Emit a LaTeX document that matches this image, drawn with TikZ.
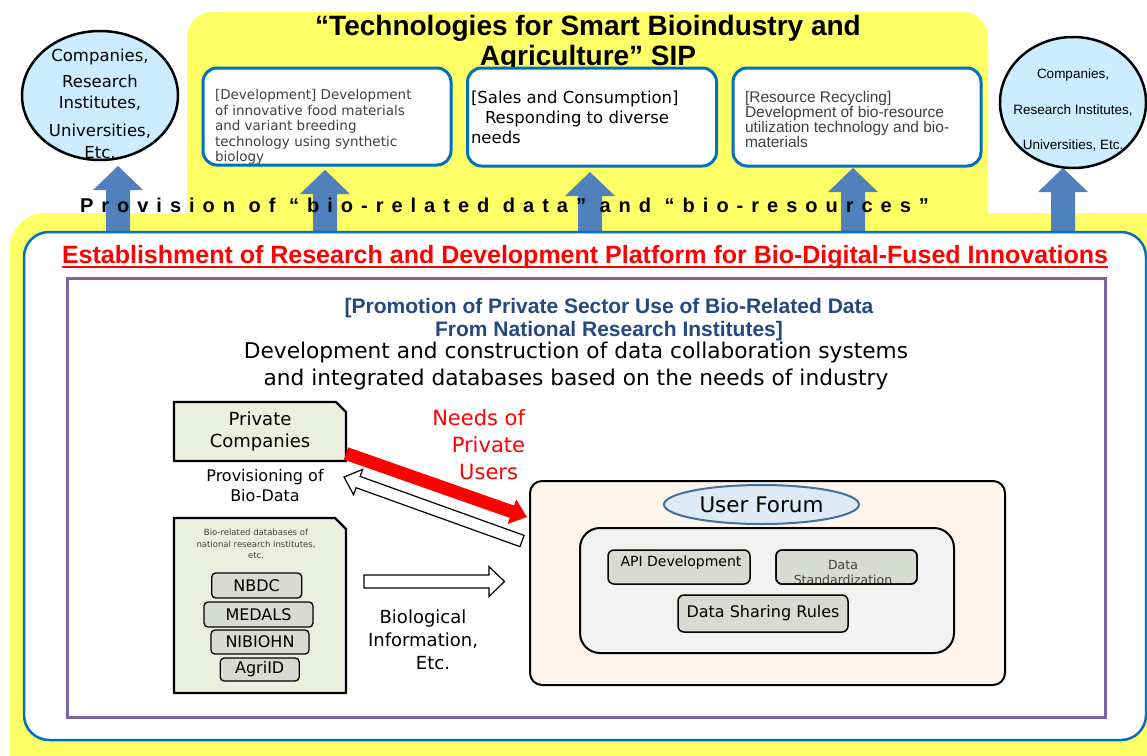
\documentclass[tikz,border=0pt]{standalone}
\usepackage{fontspec}
\setmainfont{DejaVu Sans}
\newfontfamily\arialf{Liberation Sans}
\newfontfamily\spacedf{Liberation Sans}[LetterSpace=40]
\usetikzlibrary{shapes.geometric,calc}
\definecolor{ylw}{RGB}{255,255,102}
\definecolor{bbox}{RGB}{0,112,192}
\definecolor{arrowblue}{RGB}{79,129,189}
\definecolor{circfill}{RGB}{204,236,255}
\definecolor{purp}{RGB}{128,100,162}
\definecolor{navy}{RGB}{36,72,130}
\definecolor{greenbox}{RGB}{235,240,222}
\definecolor{subgray}{RGB}{216,218,212}
\definecolor{forumfill}{RGB}{253,244,236}
\definecolor{innergray}{RGB}{242,242,242}
\definecolor{ufill}{RGB}{222,235,247}
\definecolor{ustroke}{RGB}{65,113,156}
\definecolor{txtgray}{RGB}{64,64,64}
\newcommand\fs[2]{\fontsize{#1}{#2}\selectfont}
% block arrow: options, start, end, half shaft, half head, head length
\newcommand\blockarrow[6]{%
  \coordinate (#2-hb) at ($(#3)!#6!(#2)$);
  \draw[#1] ($(#2)!#4!90:(#3)$) -- ($(#2-hb)!#4!-90:(#2)$) -- ($(#2-hb)!#5!-90:(#2)$) -- (#3)
    -- ($(#2-hb)!#5!90:(#2)$) -- ($(#2-hb)!#4!90:(#2)$) -- ($(#2)!#4!-90:(#3)$) -- cycle;}
\tikzset{
  topbox/.style={draw=bbox, line width=3pt, fill=white, rounded corners=14pt},
  subbox/.style={draw=black, line width=1.3pt, fill=subgray, rounded corners=4pt, font=\fs{16}{19}},
  graybox/.style={draw=black, line width=1.5pt, fill=subgray, rounded corners=6pt},
  upblue/.style={fill=arrowblue, draw=none},
  hollow/.style={fill=white, draw=black, line width=1.2pt},
}
\begin{document}
\begin{tikzpicture}[x=1pt,y=-1pt, every node/.style={inner sep=0pt, outer sep=0pt}]
\useasboundingbox (0,0) rectangle (1147,755);
\clip (0,0) rectangle (1147,755);
% yellow backgrounds
\fill[ylw, rounded corners=25pt] (187,12) rectangle (988,240);
\fill[ylw, rounded corners=35pt] (10,213) rectangle (1220,820);
% upward arrows
\coordinate (b1) at (118,232); \coordinate (t1) at (118,166);
\coordinate (b2) at (325,232); \coordinate (t2) at (325,170);
\coordinate (b3) at (590,232); \coordinate (t3) at (590,172);
\coordinate (b4) at (853,232); \coordinate (t4) at (853,168);
\coordinate (b5) at (1063,234); \coordinate (t5) at (1063,168);
\foreach \i in {1,...,5}{\blockarrow{upblue}{b\i}{t\i}{12pt}{25pt}{24pt}}
% main framed area
\draw[bbox, line width=2.5pt, fill=white, rounded corners=25pt] (24,232) rectangle (1146,740);
% top ellipses
\node[ellipse, draw, line width=2.5pt, fill=circfill, minimum width=156pt, minimum height=129pt] (ell1) at (100,95.5) {};
\node[align=center, font=\fs{16.5}{21}] (ell1t) at (100,104) {Companies,\\[5pt]Research\\Institutes,\\[7pt]Universities,\\[1pt]Etc.};
\node[ellipse, draw, line width=2.5pt, fill=circfill, minimum width=146pt, minimum height=131pt] (ell2) at (1073,102.5) {};
\node[align=center, font=\arialf\fs{13.5}{35.5}] (ell2t) at (1073,110) {Companies,\\Research Institutes,\\Universities, Etc.};
% title
\node[font=\arialf\bfseries\fs{28}{30}, align=center] (title) at (588,43) {“Technologies for Smart Bioindustry and\\Agriculture” SIP};
% top boxes
\node[topbox, minimum width=248pt, minimum height=97pt] (box1) at (327,116.5) {};
\node[topbox, minimum width=249pt, minimum height=98pt] (box2) at (592,117) {};
\node[topbox, minimum width=248pt, minimum height=98pt] (box3) at (857,117) {};
\node[anchor=west, align=left, text=txtgray, font=\fs{13.5}{15.6}] (box1t) at (215,127) {[Development] Development\\of innovative food materials\\and variant breeding\\technology using synthetic\\biology};
\node[anchor=west, align=left, font=\fs{16.5}{20}] (box2t) at (471,117) {[Sales and Consumption]\\\hspace*{14pt}Responding to diverse\\needs};
\node[anchor=west, align=left, text=txtgray, font=\arialf\fs{15.5}{15}] (box3t) at (745,119) {[Resource Recycling]\\Development of bio-resource\\utilization technology and bio-\\materials};
% provision text
\node[anchor=west, font=\spacedf\bfseries\fs{20}{22}] (prov) at (80,205) {Provision of “bio-related data” and “bio-resources”};
% red title
\node[font=\arialf\bfseries\fs{25}{28}, text=red] (rtitle) at (585,257) {Establishment of Research and Development Platform for Bio-Digital-Fused Innovations};
\draw[red, line width=1.5pt] ([yshift=-3.5pt]rtitle.base west) -- ([yshift=-3.5pt]rtitle.base east);
% purple frame
\draw[purp, line width=3pt] (67,278) rectangle (1105,717);
\node[font=\arialf\bfseries\fs{21}{23}, text=navy, align=center] (promo) at (609,319.5) {[Promotion of Private Sector Use of Bio-Related Data\\From National Research Institutes]};
\node[font=\fs{21.7}{27}, align=center] (devtxt) at (576,366) {Development and construction of data collaboration systems\\and integrated databases based on the needs of industry};
% private companies
\node[minimum width=172pt, minimum height=59pt] (pc) at (260,431.5) {};
\draw[line width=2.2pt, fill=greenbox] (pc.south west) -- (pc.north west) -- ([xshift=-10pt]pc.north east) -- ([yshift=-10pt]pc.north east) -- (pc.south east) -- cycle;
\node[align=center, font=\fs{18}{22}] (pct) at (pc) {Private\\Companies};
\node[align=center, font=\fs{16}{20}] (provd) at (265,486) {Provisioning of\\Bio-Data};
% databases
\node[minimum width=172pt, minimum height=175pt] (db) at (260,605.5) {};
\draw[line width=2.2pt, fill=greenbox] (db.south west) -- (db.north west) -- ([xshift=-11pt]db.north east) -- ([yshift=-11pt]db.north east) -- (db.south east) -- cycle;
\node[align=center, text=txtgray, font=\fs{8.5}{11.3}] (dbt) at (256,544) {Bio-related databases of\\national research institutes,\\etc.};
\node[subbox, minimum width=90pt, minimum height=25pt] (nbdc) at (256.7,585.5) {NBDC};
\node[subbox, minimum width=109pt, minimum height=25pt] (medals) at (258.5,614.5) {MEDALS};
\node[subbox, minimum width=98pt, minimum height=24pt] (nibiohn) at (260,642) {NIBIOHN};
\node[subbox, minimum width=79pt, minimum height=23pt] (agri) at (259.7,669.5) {AgriID};
% labels
\node[anchor=east, align=right, text=red, font=\fs{21}{27}] (needs) at (525,445) {Needs of\\Private\\Users\hspace*{7pt}};
\node[align=center, font=\fs{18}{23}] (bioinfo) at (423,640) {Biological\\Information,\\\hspace*{20pt}Etc.};
% user forum
\node[draw, line width=2pt, fill=forumfill, rounded corners=12pt, minimum width=475pt, minimum height=204pt] (uf) at (767.5,583) {};
\node[ellipse, draw=ustroke, line width=2pt, fill=ufill, minimum width=195pt, minimum height=39pt, font=\fs{21.5}{24}] (ufe) at (761.5,504.5) {User Forum};
\node[draw, line width=2pt, fill=innergray, rounded corners=20pt, minimum width=374pt, minimum height=125pt] (inner) at (767,590.5) {};
\node[graybox, minimum width=142pt, minimum height=34pt] (api) at (679,567) {};
\node[font=\fs{14}{16}] (apit) at (681,563) {API Development};
\node[graybox, minimum width=141pt, minimum height=34pt] (std) at (846.5,567) {};
\begin{scope}
\clip (std.south west) rectangle (std.north east);
\node[align=center, font=\fs{12.5}{15}, text=txtgray] (stdt) at (843,573) {Data\\Standardization};
\end{scope}
\draw[line width=1.5pt, rounded corners=6pt] (std.south west) rectangle (std.north east);
\node[graybox, minimum width=170pt, minimum height=37pt, font=\fs{16}{18}] (dsr) at (763,613.5) {Data Sharing Rules};
% arrows between blocks
\coordinate (rs) at (pc.east |- 0,453.5);
\coordinate (re) at (527,517);
\blockarrow{fill=red, draw=none}{rs}{re}{6.5pt}{13pt}{16pt}
\coordinate (bs) at (522,541);
\coordinate (be) at (344,477);
\blockarrow{hollow}{bs}{be}{6pt}{13.5pt}{15pt}
\coordinate (hs) at (364,581.5);
\coordinate (he) at (504.5,581.5);
\blockarrow{hollow}{hs}{he}{6.5pt}{15pt}{15.5pt}
\end{tikzpicture}
\end{document}
